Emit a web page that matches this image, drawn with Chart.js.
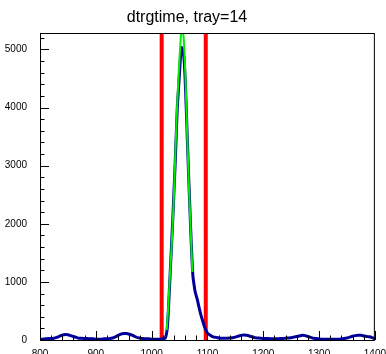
<!DOCTYPE html>
<html>
<head>
<meta charset="utf-8">
<script src="https://cdn.jsdelivr.net/npm/chart.js@4.4.1/dist/chart.umd.min.js"></script>
<style>
  html, body { margin: 0; padding: 0; background: #fff; }
  #wrap { width: 386px; height: 354px; }
</style>
</head>
<body>
<div id="wrap"><canvas id="dtrg" width="386" height="354"></canvas></div>
<script>
// histogram of dtrgtime (bin centre, counts)
const binX = [800,805,810,815,820,825,830,835,840,845,850,855,860,865,870,875,880,885,890,895,
  900,905,910,915,920,925,930,935,940,945,950,955,960,965,970,975,980,985,990,995,
  1000,1005,1010,1015,1020,1024,1026,1028,1030,1032,1034,1036,1038,1040,1042,1044,1046,1048,1050,1052,
  1054,1056,1058,1060,1062,1064,1066,1068,1070,1072,1074,1076,1078,1080,1082,1085,1088,1091,1095,1100,
  1105,1110,1115,1120,1125,1130,1135,1140,1145,1150,1155,1160,1165,1170,1175,1180,1185,1190,1195,1200,
  1205,1210,1215,1220,1225,1230,1235,1240,1245,1250,1255,1260,1265,1270,1275,1280,1285,1290,1295,1300,
  1305,1310,1315,1320,1325,1330,1335,1340,1345,1350,1355,1360,1365,1370,1375,1380,1385,1390,1395,1400];
const counts = [10,15,20,25,25,30,45,65,85,95,90,75,60,45,30,30,25,25,20,20,
  15,15,15,20,20,25,35,55,80,100,110,110,100,85,60,40,30,25,20,20,
  15,15,15,15,20,30,80,200,500,900,1300,1700,2100,2550,3000,3500,4000,4300,4600,4900,
  5030,4980,4850,4500,4000,3450,2900,2400,1900,1450,1100,950,830,760,690,560,440,344,220,120,
  80,55,45,35,30,30,30,35,40,50,65,80,85,80,70,55,40,35,30,25,
  25,25,20,20,20,25,25,30,35,40,50,60,70,80,75,60,45,30,25,20,
  15,15,15,15,15,15,15,20,25,35,50,65,75,80,80,70,60,55,40,20];

// gaussian fit curve
const fitX = [1027,1030,1033,1036,1040,1043,1046,1050,1053,1055,1058,1061,1064,1067,1070,1073];
const fitY = [170,600,1150,1650,2500,3350,4100,4850,5300,5400,5100,4400,3450,2600,1900,1170];

// timing cut window
const cutLow = 1018;
const cutHigh = 1097;

// axis labels
const xTicks = [800, 900, 1000, 1100, 1200, 1300, 1400];
const yTicks = [0, 1000, 2000, 3000, 4000, 5000];

const xMin = 800, xMax = 1400, yMax = 5282;
const titleText = 'dtrgtime, tray=14';

function pts(xs, ys){ return xs.map((x, i) => ({ x: x, y: ys[i] })); }

// ROOT style frame, inward ticks and title
const rootFrame = {
  id: 'rootFrame',
  afterDatasetsDraw(chart){
    const ctx = chart.ctx, a = chart.chartArea;
    const xs = chart.scales.x, ys = chart.scales.y;
    ctx.save();
    ctx.strokeStyle = '#000';
    ctx.lineWidth = 1;
    ctx.strokeRect(a.left + 0.5, a.top + 0.5, a.right - a.left - 1, a.bottom - a.top);
    ctx.beginPath();
    for (let v = xMin; v <= xMax; v += 20){
      const px = Math.round(xs.getPixelForValue(v)) + 0.5;
      const len = v % 100 === 0 ? 9 : 4.5;
      ctx.moveTo(px, a.bottom); ctx.lineTo(px, a.bottom - len);
    }
    for (let v = 0; v <= yMax; v += 200){
      const py = Math.round(ys.getPixelForValue(v)) + 0.5;
      const len = v % 1000 === 0 ? 9 : 4.5;
      ctx.moveTo(a.left, py); ctx.lineTo(a.left + len, py);
    }
    ctx.stroke();
    ctx.fillStyle = '#000';
    ctx.font = '16px "Liberation Sans", Arial, sans-serif';
    ctx.textAlign = 'center';
    ctx.textBaseline = 'middle';
    ctx.fillText(titleText, 187, 18);
    ctx.restore();
  }
};

Chart.defaults.font.family = '"Liberation Sans", Arial, sans-serif';
Chart.defaults.color = '#000';

new Chart(document.getElementById('dtrg').getContext('2d'), {
  type: 'line',
  data: {
    datasets: [
      { label: 'fit', data: pts(fitX, fitY), borderColor: '#00ee00', borderWidth: 2, pointRadius: 0, tension: 0.3, order: 0 },
      { label: 'dtrgtime', data: pts(binX, counts), borderColor: '#000099', borderWidth: 3, pointRadius: 0, tension: 0.2, order: 1 },
      { label: 'low', data: pts([cutLow, cutLow], [0, yMax]), borderColor: '#ff0000', borderWidth: 4, pointRadius: 0, order: 2 },
      { label: 'high', data: pts([cutHigh, cutHigh], [0, yMax]), borderColor: '#ff0000', borderWidth: 4, pointRadius: 0, order: 2 }
    ]
  },
  options: {
    responsive: false,
    animation: false,
    devicePixelRatio: 1,
    layout: { padding: { top: 33, right: 9, left: 0, bottom: 0 } },
    plugins: { legend: { display: false }, tooltip: { enabled: false }, title: { display: false } },
    scales: {
      x: {
        type: 'linear', min: xMin, max: xMax,
        grid: { display: false }, border: { display: false },
        afterBuildTicks(s){ s.ticks = xTicks.map(v => ({ value: v })); },
        ticks: { autoSkip: false, maxRotation: 0, padding: 0, font: { size: 10 }, callback: v => String(v) },
        afterFit(s){ s.height = 14; }
      },
      y: {
        min: 0, max: yMax,
        grid: { display: false }, border: { display: false },
        afterBuildTicks(s){ s.ticks = yTicks.map(v => ({ value: v })); },
        ticks: { padding: 5, font: { size: 10 }, callback: v => String(v) },
        afterFit(s){ s.width = 40; }
      }
    }
  },
  plugins: [rootFrame]
});
</script>
</body>
</html>
